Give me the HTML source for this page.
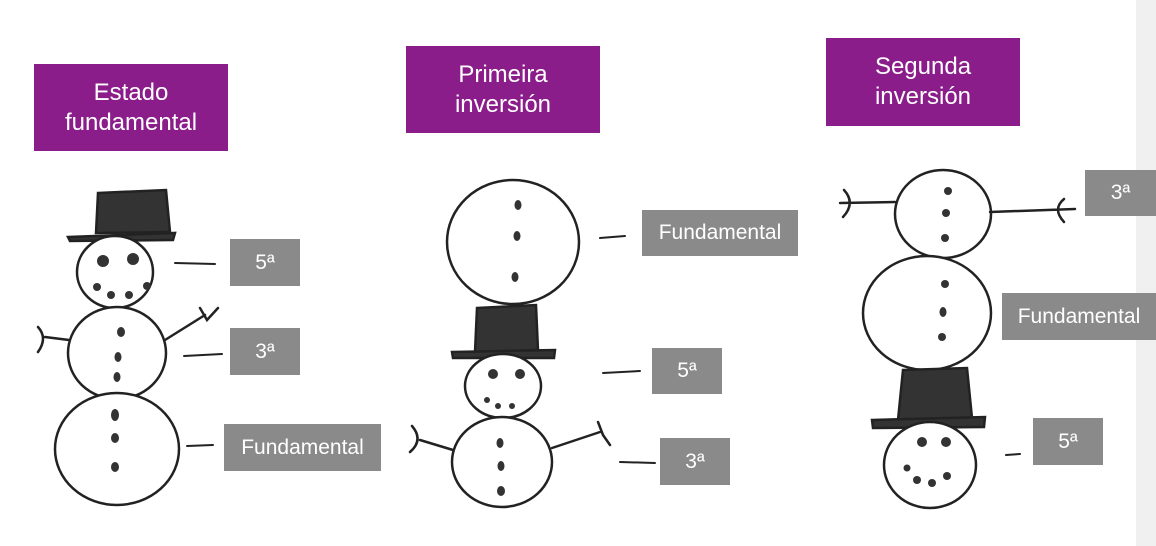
<!DOCTYPE html>
<html><head><meta charset="utf-8"><style>
body{margin:0;background:#fff;width:1156px;height:546px;overflow:hidden;font-family:"Liberation Sans",sans-serif}
.t{position:absolute;background:#8b1d8b;color:#fff;font-size:24px;line-height:30px;text-align:center;display:flex;align-items:center;justify-content:center}
.g{position:absolute;background:#8a8a8a;color:#fff;font-size:21px;display:flex;align-items:center;justify-content:center}
</style></head><body>
<div style="position:absolute;left:1136px;top:0;width:20px;height:546px;background:#f0f0f0"></div>
<div class="t" style="left:34px;top:64px;width:194px;height:87px">Estado<br>fundamental</div>
<div class="t" style="left:406px;top:46px;width:194px;height:87px">Primeira<br>inversión</div>
<div class="t" style="left:826px;top:38px;width:194px;height:88px">Segunda<br>inversión</div>
<svg width="1156" height="546" style="position:absolute;left:0;top:0" fill="none" stroke="#222" stroke-width="2.5" stroke-linecap="round">
<!-- snowman 1 -->
<path d="M98 193 L166 190 L170 232 L96 233 Z" fill="#333"/>
<path d="M68 237 L175 233 L173 240 L70 241 Z" fill="#333"/>
<ellipse cx="115" cy="272" rx="38" ry="36" fill="#fff"/>
<ellipse cx="117" cy="353" rx="49" ry="46" fill="#fff"/>
<ellipse cx="117" cy="449" rx="62" ry="56" fill="#fff"/>
<path d="M69 340 L45 337 M38 327 Q48 338 38 352 M165 340 L205 315 M200 308 L207 320 L218 308"/>
<g fill="#333" stroke="none">
<circle cx="103" cy="261" r="6"/><circle cx="133" cy="259" r="6"/>
<circle cx="97" cy="287" r="4"/><circle cx="111" cy="295" r="4"/><circle cx="129" cy="295" r="4"/><circle cx="147" cy="286" r="4"/>
<ellipse cx="121" cy="332" rx="4" ry="5"/><ellipse cx="118" cy="357" rx="3.5" ry="5"/><ellipse cx="117" cy="377" rx="3.5" ry="5"/>
<ellipse cx="115" cy="415" rx="4" ry="6"/><ellipse cx="115" cy="438" rx="4" ry="5"/><ellipse cx="115" cy="467" rx="4" ry="5"/>
</g>
<path d="M175 263 L215 264 M184 356 L222 354 M187 446 L213 445" stroke-width="2"/>
<!-- snowman 2 -->
<ellipse cx="513" cy="242" rx="66" ry="62" fill="#fff"/>
<path d="M477 308 L536 305 L538 350 L475 352 Z" fill="#333"/>
<path d="M452 352 L555 350 L554 358 L453 358 Z" fill="#333"/>
<ellipse cx="503" cy="386" rx="38" ry="32" fill="#fff"/>
<ellipse cx="502" cy="462" rx="50" ry="45" fill="#fff"/>
<path d="M453 450 L420 440 M412 426 Q424 440 410 452 M552 448 L600 432 M598 422 L603 435 L610 445"/>
<g fill="#333" stroke="none">
<ellipse cx="518" cy="205" rx="3.5" ry="5"/><ellipse cx="517" cy="236" rx="3.5" ry="5"/><ellipse cx="515" cy="277" rx="3.5" ry="5"/>
<circle cx="493" cy="374" r="5"/><circle cx="520" cy="374" r="5"/>
<circle cx="487" cy="400" r="3"/><circle cx="498" cy="406" r="3"/><circle cx="512" cy="406" r="3"/>
<ellipse cx="500" cy="443" rx="3.5" ry="5"/><ellipse cx="501" cy="466" rx="3.5" ry="5"/><ellipse cx="501" cy="491" rx="4" ry="5"/>
</g>
<path d="M600 238 L625 236 M603 373 L640 371 M620 462 L655 463" stroke-width="2"/>
<!-- snowman 3 -->
<ellipse cx="943" cy="214" rx="48" ry="44" fill="#fff"/>
<ellipse cx="927" cy="313" rx="64" ry="57" fill="#fff"/>
<path d="M903 370 L967 368 L972 418 L898 420 Z" fill="#333"/>
<path d="M872 420 L985 417 L984 427 L873 428 Z" fill="#333"/>
<ellipse cx="930" cy="465" rx="46" ry="43" fill="#fff"/>
<path d="M895 202 L840 203 M844 190 Q856 203 843 217 M990 212 L1075 209 M1064 199 Q1052 209 1064 222"/>
<g fill="#333" stroke="none">
<circle cx="948" cy="191" r="4"/><circle cx="946" cy="213" r="4"/><circle cx="945" cy="238" r="4"/>
<circle cx="945" cy="284" r="4"/><ellipse cx="943" cy="312" rx="3.5" ry="5"/><circle cx="942" cy="337" r="4"/>
<circle cx="922" cy="442" r="5"/><circle cx="946" cy="442" r="5"/>
<circle cx="907" cy="468" r="3.5"/><circle cx="917" cy="480" r="4"/><circle cx="932" cy="483" r="4"/><circle cx="947" cy="476" r="4"/>
</g>
<path d="M1006 455 L1020 454" stroke-width="2"/>
</svg>
<div class="g" style="left:230px;top:239px;width:70px;height:47px">5ª</div>
<div class="g" style="left:230px;top:328px;width:70px;height:47px">3ª</div>
<div class="g" style="left:224px;top:424px;width:157px;height:47px">Fundamental</div>
<div class="g" style="left:642px;top:210px;width:156px;height:46px">Fundamental</div>
<div class="g" style="left:652px;top:348px;width:70px;height:46px">5ª</div>
<div class="g" style="left:660px;top:438px;width:70px;height:47px">3ª</div>
<div class="g" style="left:1085px;top:170px;width:71px;height:46px">3ª</div>
<div class="g" style="left:1002px;top:293px;width:154px;height:47px">Fundamental</div>
<div class="g" style="left:1033px;top:418px;width:70px;height:47px">5ª</div>
</body></html>
